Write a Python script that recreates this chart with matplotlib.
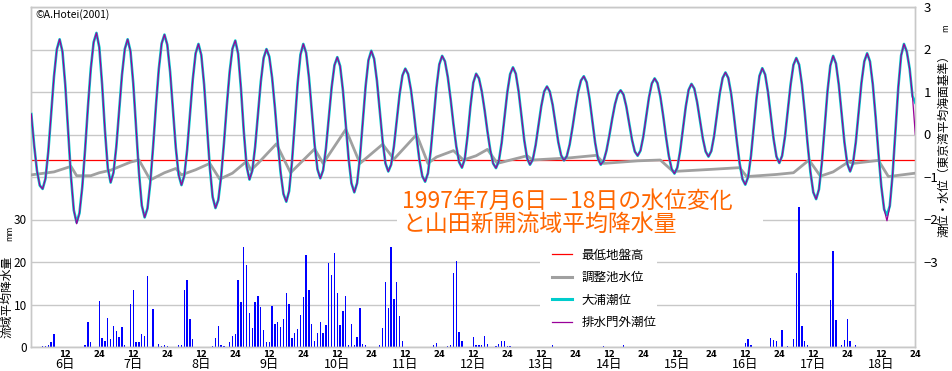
import numpy as np
import matplotlib
matplotlib.use("Agg")
import matplotlib.pyplot as plt
from matplotlib.lines import Line2D
from matplotlib.patches import Rectangle

plt.rcParams["font.family"] = ["Noto Sans CJK JP", "DejaVu Sans"]
plt.rcParams["axes.unicode_minus"] = True

# -------------------------------------------------------------------
# DATA  (hour 0 = 1997-07-06 00:00, hourly values)
# -------------------------------------------------------------------
# 大浦潮位 [m, T.P.]
oura_tide = [
    0.48, -0.25, -0.85, -1.20, -1.28,            # 0-4
    -1.04, -0.40, 0.48, 1.36, 2.00, 2.24,        # 5-10
    1.95, 1.16, 0.09, -0.99, -1.78, -2.07,       # 11-16
    -1.85, -1.23, -0.34, 0.66, 1.55, 2.17, 2.39, # 17-23
    2.05, 1.17, 0.09, -0.79, -1.13,              # 24-28
    -0.90, -0.29, 0.56, 1.40, 2.01, 2.24,        # 29-34
    1.96, 1.19, 0.15, -0.90, -1.67, -1.95,       # 35-40
    -1.74, -1.14, -0.28, 0.68, 1.54, 2.14, 2.35, # 41-47
    2.11, 1.47, 0.58, -0.31, -0.95, -1.19,       # 48-53
    -0.97, -0.36, 0.47, 1.30, 1.91, 2.13,        # 54-59
    1.87, 1.17, 0.20, -0.77, -1.47, -1.73,       # 60-65
    -1.54, -0.99, -0.20, 0.68, 1.47, 2.02, 2.21, # 66-72
    1.90, 1.08, 0.07, -0.75, -1.06,              # 73-77
    -0.85, -0.29, 0.48, 1.24, 1.80, 2.01,        # 78-83
    1.83, 1.33, 0.62, -0.19, -0.90, -1.40, -1.58,  # 84-90
    -1.33, -0.65, 0.28, 1.20, 1.88, 2.13,        # 91-96
    1.92, 1.34, 0.55, -0.24, -0.82, -1.03,       # 97-102
    -0.84, -0.32, 0.40, 1.11, 1.63, 1.82,        # 103-108
    1.61, 1.03, 0.23, -0.57, -1.15, -1.36,       # 109-114
    -1.14, -0.53, 0.31, 1.14, 1.75, 1.97,        # 115-120
    1.78, 1.26, 0.55, -0.16, -0.68, -0.87,       # 121-126
    -0.71, -0.27, 0.34, 0.95, 1.39, 1.55,        # 127-132
    1.42, 1.05, 0.52, -0.08, -0.61, -0.98, -1.11,  # 133-139
    -0.91, -0.37, 0.37, 1.11, 1.65, 1.85,        # 140-145
    1.72, 1.35, 0.83, 0.24, -0.28, -0.65, -0.78, # 146-152
    -0.57, -0.02, 0.67, 1.22, 1.43,              # 153-157
    1.32, 1.01, 0.57, 0.07, -0.37, -0.68, -0.79, # 158-164
    -0.63, -0.20, 0.40, 0.99, 1.42, 1.58,        # 165-170
    1.43, 1.01, 0.44, -0.14, -0.56, -0.71,       # 171-176
    -0.59, -0.25, 0.21, 0.67, 1.01, 1.13,        # 177-182
    1.01, 0.70, 0.26, -0.18, -0.49, -0.61,       # 183-188
    -0.51, -0.24, 0.16, 0.60, 1.00, 1.27, 1.37,  # 189-195
    1.23, 0.85, 0.33, -0.19, -0.57, -0.71,       # 196-201
    -0.62, -0.38, -0.03, 0.36, 0.71, 0.95, 1.04, # 202-208
    0.94, 0.66, 0.27, -0.12, -0.40, -0.50,       # 209-214
    -0.38, -0.05, 0.41, 0.87, 1.20, 1.32,        # 215-220
    1.21, 0.90, 0.45, -0.05, -0.50, -0.81, -0.92,  # 221-227
    -0.78, -0.39, 0.14, 0.66, 1.05, 1.19,        # 228-233
    1.08, 0.76, 0.34, -0.09, -0.40, -0.52,       # 234-239
    -0.39, -0.03, 0.47, 0.97, 1.33, 1.46,        # 240-245
    1.33, 0.96, 0.43, -0.15, -0.68, -1.05, -1.18,  # 246-252
    -1.00, -0.50, 0.19, 0.88, 1.38, 1.56,        # 253-258
    1.41, 1.00, 0.45, -0.11, -0.52, -0.67,       # 259-264
    -0.50, -0.05, 0.57, 1.18, 1.64, 1.80,        # 265-270
    1.64, 1.17, 0.51, -0.23, -0.89, -1.36, -1.52,  # 271-277
    -1.29, -0.68, 0.17, 1.01, 1.62, 1.85,        # 278-283
    1.67, 1.17, 0.49, -0.19, -0.69, -0.87,       # 284-289
    -0.68, -0.18, 0.52, 1.22, 1.72, 1.91,        # 290-295
    1.72, 1.18, 0.41, -0.45, -1.22, -1.76, -1.90,  # 296-302
    -1.68, -0.93, 0.09, 1.11, 1.86, 2.13,        # 303-308
    1.95, 1.55, 0.90, 0.75,                      # 309-312
]
assert len(oura_tide) == 313, len(oura_tide)

# 排水門外潮位: practically the same record, differs at a few hours
gate_tide = list(oura_tide)
gate_tide[16] = -2.10
gate_tide[302] = -2.03
gate_tide[312] = 0.0

# 調整池水位 (break points of the line)
pond_hours = [0, 8, 14, 16, 21, 24, 28, 35, 38, 42, 47, 51, 53, 58, 63, 66.5,
              71, 76, 77.5, 80, 86.5, 91.5, 100, 103, 111, 116, 124, 128, 136,
              140, 143, 149, 152.5, 157, 161, 164.5, 175, 177, 190, 199.5, 202,
              214, 222, 226.5, 240, 250, 252.5, 263, 269, 274.5, 278.5, 283,
              288.5, 290, 299, 302.5, 312]
pond_level = [-0.95, -0.88, -0.75, -0.97, -0.97, -0.90, -0.84, -0.65, -0.60,
              -1.07, -0.90, -0.80, -0.95, -0.83, -0.68, -1.05, -0.91, -0.63,
              -0.84, -0.68, -0.22, -0.90, -0.34, -0.68, 0.12, -0.68, -0.23,
              -0.58, 0.0, -0.68, -0.53, -0.38, -0.60, -0.50, -0.35, -0.68,
              -0.50, -0.60, -0.55, -0.49, -0.68, -0.62, -0.60, -0.87, -0.82,
              -0.78, -0.99, -0.94, -0.90, -0.60, -0.98, -0.88, -0.64, -0.68,
              -0.61, -0.99, -0.91]

# 最低地盤高 [m]
ground_min = -0.6

# 山田新開流域平均降水量 [mm/h]
rain_hours = [4, 5, 6, 7, 8, 19, 20, 21,
              24, 25, 26, 27, 28, 29, 30, 31, 32, 33, 35, 36, 37, 38, 39, 40, 41, 43,
              45, 46, 47, 48, 52, 53, 54, 55, 56, 57, 64, 65, 66, 67, 68,
              70, 71, 72, 73, 74, 75, 76, 77, 78, 79, 80, 81, 82, 83, 84, 85, 86,
              87, 88, 89, 90, 91, 92, 93, 94, 95, 96, 97, 98, 99, 100, 101,
              102, 103, 104, 105, 106, 107, 108, 109, 110, 111, 112, 113, 114,
              115, 116, 117, 118, 123, 124, 125, 126, 127, 128, 129, 130, 131,
              142, 143, 147, 148, 149, 150, 151, 152, 156, 157, 158, 159, 160, 161,
              164, 165, 166, 167, 168, 169, 184, 202, 209,
              252, 253, 254, 261, 262, 263, 265, 267, 269, 270, 271, 272, 273, 274,
              282, 283, 284, 286, 287, 288, 289, 291]
rain_mm = [0.3, 0.3, 0.5, 1.2, 3.1, 0.5, 5.9, 1.2,
           10.8, 2.1, 1.4, 6.8, 1.9, 4.9, 3.8, 2.4, 4.7, 0.5, 10.1, 13.4, 1.2, 1.2, 3.1, 2.6, 16.7, 8.9,
           0.7, 0.3, 0.5, 0.3, 0.5, 0.5, 13.3, 15.8, 6.6, 1.9, 0.3, 2.1, 4.9, 0.5, 0.3,
           1.2, 2.6, 3.1, 15.8, 10.6, 23.5, 19.4, 8.0, 4.5, 10.6, 12.0, 9.4, 4.0, 1.2, 1.2, 9.6, 5.4,
           5.9, 4.7, 6.6, 12.7, 10.1, 2.1, 3.3, 4.2, 7.5, 11.8, 21.6, 13.4, 5.4, 1.4, 3.3,
           5.9, 3.3, 5.2, 19.8, 16.9, 22.1, 12.7, 5.2, 8.5, 12.0, 0.5, 5.4, 0.5,
           2.4, 9.2, 0.7, 0.5, 0.5, 4.5, 15.3, 9.2, 23.5, 11.3, 15.3, 7.3, 1.4,
           0.5, 0.9, 0.3, 0.5, 17.4, 20.2, 3.5, 1.4, 2.4, 0.5, 0.5, 0.5, 2.6, 0.7,
           0.3, 0.7, 1.4, 1.4, 0.3, 0.3, 0.5, 0.3, 0.5,
           0.9, 1.9, 0.5, 2.1, 1.6, 1.4, 4.0, 0.3, 1.9, 17.4, 33.0, 4.9, 1.4, 0.5,
           11.1, 22.6, 6.4, 0.5, 1.6, 6.6, 1.4, 0.5]

day_names = ["6日", "7日", "8日", "9日", "10日", "11日", "12日",
             "13日", "14日", "15日", "16日", "17日", "18日"]
series_labels = ["最低地盤高", "調整池水位", "大浦潮位", "排水門外潮位"]

# -------------------------------------------------------------------
# FIGURE
# -------------------------------------------------------------------
W, H = 952, 371
fig = plt.figure(figsize=(W / 100, H / 100), dpi=100)
fig.patch.set_facecolor("white")

# plot area in pixels: x 31.3..915.3, y 7..347
ax = fig.add_axes([31.3 / W, (H - 347) / H, 884 / W, 340 / H])
ax2 = ax.twinx()

GRID = "#C8C8C8"
hours = np.arange(len(oura_tide))

# rainfall (left axis)
ax.bar(rain_hours, rain_mm, width=0.45, color="#0000FF", zorder=2)
ax.set_xlim(0, 312)
ax.set_ylim(0, 80)
ax.set_yticks(np.arange(0, 81, 10))
ax.set_yticklabels(["0", "10", "20", "30", "", "", "", "", ""])
ax.set_xticks(np.arange(12, 313, 12))
ax.set_xticklabels(["12" if t % 24 else "24" for t in range(12, 313, 12)],
                   fontsize=6, fontweight="bold", family="DejaVu Sans")
ax.set_xticks(np.arange(24, 312, 24), minor=True)
ax.grid(which="minor", axis="x", color=GRID, lw=1.0)
ax.grid(which="major", axis="y", color=GRID, lw=1.0)
ax.set_axisbelow(True)
ax.tick_params(axis="x", which="both", length=0, pad=2)
ax.tick_params(axis="y", length=0, pad=3, labelsize=8.5)

for i, name in enumerate(day_names):
    ax.text(12 + 24 * i, -0.052, name, transform=ax.get_xaxis_transform(),
            ha="center", va="center", fontsize=9)

# tide / water level (right axis)
ax2.set_ylim(-5, 3)
ax2.set_yticks(np.arange(-5, 4, 1))
ax2.set_yticklabels(["", "", "\u22123", "\u22122", "\u22121", "0", "1", "2", "3"])
ax2.tick_params(axis="y", length=0, pad=6, labelsize=9.5)

for a in (ax, ax2):
    for s in a.spines.values():
        s.set_color(GRID)
        s.set_linewidth(1.0)

# white boxes behind the title and the legend
ax2.add_patch(Rectangle((0.4137, 0.3088), 0.414, 0.1618, transform=ax2.transAxes,
                        fc="white", ec="none", zorder=1))
ax2.add_patch(Rectangle((0.5755, 0.0294), 0.1324, 0.2794, transform=ax2.transAxes,
                        fc="white", ec="none", zorder=1))

ax2.axhline(ground_min, color="#FF0000", lw=0.9, zorder=2)
ax2.plot(pond_hours, pond_level, color="#A0A0A0", lw=2.0, zorder=3)
ax2.plot(hours, oura_tide, color="#00CCCC", lw=1.9, zorder=4)
ax2.plot(hours, gate_tide, color="#990099", lw=0.9, zorder=5)

handles = [Line2D([], [], color="#FF0000", lw=0.9),
           Line2D([], [], color="#A0A0A0", lw=2.2),
           Line2D([], [], color="#00CCCC", lw=2.2),
           Line2D([], [], color="#990099", lw=0.9)]
ax2.legend(handles, series_labels, loc="upper left",
           bbox_to_anchor=((548 - 31.3) / 884, (347 - 245) / 340),
           frameon=False, fontsize=9, handlelength=1.6, handletextpad=0.8,
           labelspacing=0.75, borderpad=0.3, borderaxespad=0)

# texts
fig.text(402 / W, 1 - 190 / H, "1997年7月6日－18日の水位変化\nと山田新開流域平均降水量",
         color="#FF6600", fontsize=16.5, va="top", ha="left", linespacing=1.0)
fig.text(35 / W, 1 - 15 / H, "©A.Hotei(2001)", fontsize=7.5, va="center", ha="left")
fig.text(944 / W, 1 - 143 / H, "潮位・水位（東京湾平均海面基準）", rotation=90,
         fontsize=8.5, va="center", ha="center")
fig.text(946 / W, 1 - 28 / H, "m", rotation=90, fontsize=6, va="center", ha="center")
fig.text(7 / W, 1 - 297 / H, "流域平均降水量", rotation=90, fontsize=8.5,
         va="center", ha="center")
fig.text(10 / W, 1 - 233 / H, "mm", rotation=90, fontsize=6, va="center", ha="center")

fig.savefig("out.png", dpi=100)
